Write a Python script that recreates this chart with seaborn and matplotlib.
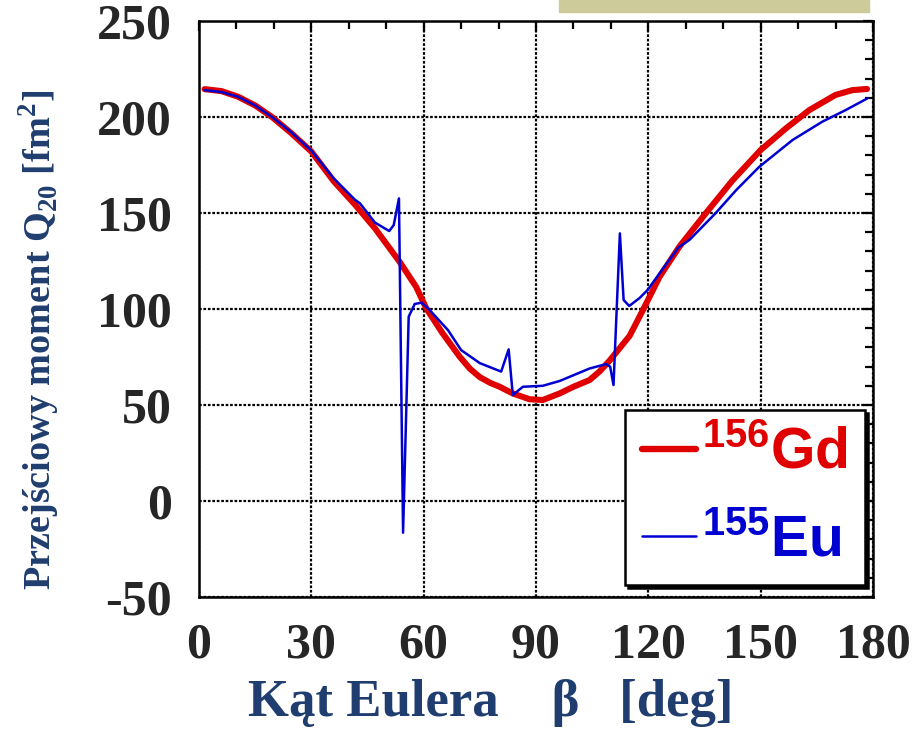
import matplotlib
matplotlib.use("Agg")
import matplotlib.pyplot as plt
from matplotlib.lines import Line2D
from matplotlib.patches import Rectangle
from matplotlib.ticker import MultipleLocator
import seaborn as sns
import pandas as pd

# ---- data ----
beta_gd = [1.5, 6, 10.5, 15, 19.5, 24.7, 30, 36, 41.6, 47, 53.6, 58, 60.7, 65,
           69.6, 72.3, 75, 77.8, 80.3, 83.8, 88.3, 91.8, 96.3, 100, 104.3, 107, 109.6,
           115, 118.7, 123, 128.3, 135.4, 142.5, 150, 156.7, 163, 170, 174.5, 178.4]
q_gd = [214.5, 213.5, 210.5, 206, 200, 191.5, 182, 166.5, 154.5, 142, 124.5, 111.5,
        100.3, 87.5, 75.2, 69, 64.5, 61.5, 59.5, 56, 53, 52.6, 56, 59.5, 63, 67.5, 73,
        86, 100, 116.8, 132.5, 150, 167, 182.8, 194, 203.6, 211.5, 214, 214.6]

beta_eu = [1.5, 6, 10.5, 15, 19.5, 24.7, 30, 36, 41.6, 43, 47, 50.8, 52, 53.4, 54.5,
           56, 57.6, 59.4, 61.2, 66.5, 70, 75, 80.7, 82.7, 83.8, 86.5, 91.8, 96.3,
           104.3, 108.7, 109.8, 110.7, 112.4, 113.4, 114.9, 117.6, 119.8, 123, 128,
           131, 138, 143.5, 149.6, 158.5, 166.5, 172.7, 178.5]
q_eu = [214, 213, 210.5, 206, 200, 192, 182.5, 168, 157, 155, 145, 140.6, 143.7, 157.6,
        -16.5, 96, 102.6, 103.3, 100.3, 89, 78.6, 71.8, 67.4, 79, 55.2, 59.5, 60, 62.5,
        69, 71.3, 70, 60.4, 139.4, 104.7, 101.6, 105.6, 109.9, 118.6, 132, 136, 150,
        162, 174, 188, 197.6, 203.6, 209.7]

labels = [r"$^{\mathbf{156}}\mathbf{Gd}$", r"$^{\mathbf{155}}\mathbf{Eu}$"]
colors = ["#e00000", "#0000d0"]
xticks = [0, 30, 60, 90, 120, 150, 180]
yticks = [-50, 0, 50, 100, 150, 200, 250]

sns.set_style("white")
plt.rcParams["font.family"] = ["Liberation Serif", "DejaVu Serif"]
plt.rcParams["font.weight"] = "bold"
plt.rcParams["mathtext.fontset"] = "custom"
plt.rcParams["mathtext.rm"] = "Liberation Sans:bold"
plt.rcParams["mathtext.bf"] = "Liberation Sans:bold"
plt.rcParams["mathtext.it"] = "Liberation Sans:bold"

fig = plt.figure(figsize=(9.13, 7.32), dpi=100)
ax = fig.add_axes([199/913, 1-597/732, 674/913, 576/732])

df_gd = pd.DataFrame({"beta": beta_gd, "Q": q_gd})
df_eu = pd.DataFrame({"beta": beta_eu, "Q": q_eu})
sns.lineplot(data=df_gd, x="beta", y="Q", ax=ax, color=colors[0], lw=4.4, sort=False, zorder=3)
sns.lineplot(data=df_eu, x="beta", y="Q", ax=ax, color=colors[1], lw=1.8, sort=False, zorder=4)

ax.set_xlim(0, 180)
ax.set_ylim(-50, 250)
ax.set_xticks(xticks)
ax.set_yticks(yticks)
ax.set_xticklabels([str(t) for t in xticks])
ax.set_yticklabels([str(t) for t in yticks])
ax.xaxis.set_minor_locator(MultipleLocator(10))
ax.yaxis.set_minor_locator(MultipleLocator(10))
ax.tick_params(which="both", direction="in", top=True, right=True, color="black")
ax.tick_params(which="major", length=7, width=1.6)
ax.tick_params(which="minor", length=6, width=1.6)
ax.tick_params(axis="x", which="major", labelsize=36, pad=18)
ax.tick_params(axis="y", which="major", labelsize=36, pad=19.5)
for lab in ax.get_xticklabels() + ax.get_yticklabels():
    lab.set_fontweight("bold")

ax.grid(True, which="major", color="black", linestyle=(0, (1.2, 0.8)), linewidth=1.6)
for s in ax.spines.values():
    s.set_color("black")
    s.set_linewidth(1.8)

navy = "#1f3d6e"
ax.set_xlabel("Kąt Eulera    β   [deg]", fontsize=38, fontweight="bold", color=navy)
ax.set_ylabel(r"Przejściowy moment Q$_{\mathregular{20}}$ [fm$^{\mathregular{2}}$]",
              fontsize=27.5, fontweight="bold", color=navy)
ax.xaxis.set_label_coords(0.433, -0.143)
ax.yaxis.set_label_coords(-0.204, 0.446)

handles = [Line2D([], [], color=colors[0], lw=4.6), Line2D([], [], color=colors[1], lw=1.8)]
leg = ax.legend(handles, labels, loc="lower right", bbox_to_anchor=(0.988, 0.021),
                prop={"size": 41}, frameon=True, fancybox=False,
                shadow={"color": "black", "alpha": 1},
                handlelength=0.95, handletextpad=0.1, labelspacing=0.6,
                borderpad=0.3, borderaxespad=0)
leg.get_frame().set_edgecolor("black")
leg.get_frame().set_linewidth(1.8)
leg.get_frame().set_alpha(1)
for t, c in zip(leg.get_texts(), colors):
    t.set_color(c)
leg.set_zorder(10)

fig.patches.append(Rectangle((559/913, 1-12/732), 310/913, 12/732,
                             transform=fig.transFigure, color="#cdcb9a", zorder=0))

fig.savefig("out.png", dpi=100)
